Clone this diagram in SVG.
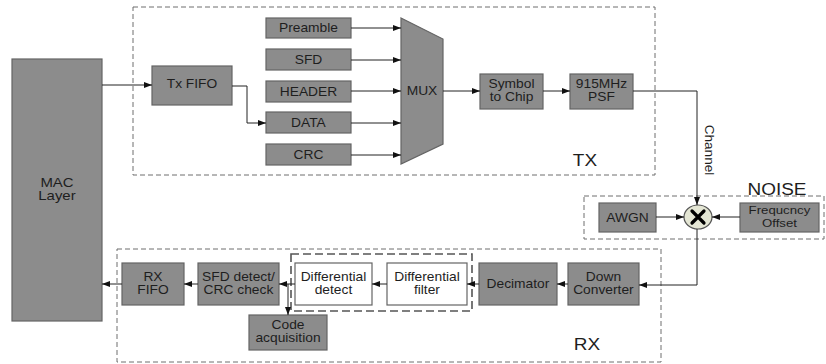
<svg xmlns="http://www.w3.org/2000/svg" width="826" height="364" viewBox="0 0 826 364">
<defs>
<style>
.box{fill:#8c8c8c;stroke:#646464;stroke-width:1.2}
.wbox{fill:#ffffff;stroke:#646464;stroke-width:1.2}
.grp{fill:none;stroke:#6e6e6e;stroke-width:1;stroke-dasharray:5,3}
.grp2{fill:none;stroke:#555;stroke-width:1.6;stroke-dasharray:8,4}
text{font-family:"Liberation Sans",Arial,sans-serif;font-size:12px;fill:#1e1e1e;text-anchor:middle;transform-box:fill-box;transform-origin:center;transform:scaleX(1.15)}
.big{font-size:16.5px}
.mac{font-size:13px}
.sm{font-size:11.5px}
.ch{font-size:13.5px;transform:none}
.con{fill:none;stroke:#222;stroke-width:1}
</style>
<marker id="arr" viewBox="0 0 8 6" refX="8" refY="3" markerWidth="8" markerHeight="6" markerUnits="userSpaceOnUse" orient="auto">
<path d="M0,0 L8,3 L0,6 z" fill="#111"/>
</marker>
</defs>
<rect width="826" height="364" fill="#ffffff"/>

<g id="groups">
<rect class="grp" x="133" y="7" width="522" height="168"/>
<rect class="grp" x="584" y="196" width="240" height="43"/>
<rect class="grp" x="117" y="249" width="544" height="113"/>
<rect class="grp2" x="291" y="254" width="181" height="57"/>
<text class="big" x="585" y="166.5">TX</text>
<text class="big" x="777" y="195">NOISE</text>
<text class="big" x="587" y="350">RX</text>
<g transform="translate(705,150) rotate(90)"><text class="ch" x="0" y="0">Channel</text></g>
</g>

<g id="mac"><rect class="box" x="12" y="59" width="90" height="262"/><text class="mac" x="57" y="187">MAC</text><text class="mac" x="57" y="200.5">Layer</text></g>
<g id="txfifo"><rect class="box" x="152" y="66" width="80" height="39"/><text x="192" y="88.5">Tx FIFO</text></g>
<g id="preamble"><rect class="box" x="266" y="18" width="85" height="20"/><text x="308.5" y="32.3">Preamble</text></g>
<g id="sfd"><rect class="box" x="266" y="49" width="85" height="21"/><text x="308.5" y="63.8">SFD</text></g>
<g id="header"><rect class="box" x="266" y="81" width="85" height="21"/><text x="308.5" y="95.8">HEADER</text></g>
<g id="data"><rect class="box" x="266" y="112" width="85" height="21"/><text x="308.5" y="126.8">DATA</text></g>
<g id="crc"><rect class="box" x="266" y="144" width="85" height="21"/><text x="308.5" y="158.8">CRC</text></g>
<g id="mux"><polygon class="box" points="401,18 443,39 443,144 401,164"/><text x="422" y="95.5">MUX</text></g>
<g id="symbol"><rect class="box" x="480" y="74" width="63" height="35"/><text x="511.5" y="88">Symbol</text><text x="511.5" y="101.5">to Chip</text></g>
<g id="psf"><rect class="box" x="570" y="74" width="63" height="35"/><text x="601.5" y="88">915MHz</text><text x="601.5" y="101.5">PSF</text></g>
<g id="awgn"><rect class="box" x="599" y="203" width="57" height="29"/><text x="627.5" y="222">AWGN</text></g>
<g id="freq"><rect class="box" x="740" y="203" width="79" height="29"/><text class="sm" x="779.5" y="214.5">Frequcncy</text><text class="sm" x="779.5" y="227.5">Offset</text></g>
<g id="mixer"><ellipse cx="698" cy="217" rx="14" ry="12" fill="#e4e6d4" stroke="#555" stroke-width="1.2"/><path d="M692,211 L704,223 M704,211 L692,223" stroke="#000" stroke-width="3.2" stroke-linecap="round"/></g>
<g id="downconv"><rect class="box" x="568" y="263" width="71" height="42"/><text x="603.5" y="281">Down</text><text x="603.5" y="294.5">Converter</text></g>
<g id="decimator"><rect class="box" x="479" y="263" width="78" height="42"/><text x="518" y="288.5">Decimator</text></g>
<g id="difffilter"><rect class="wbox" x="387" y="263" width="80" height="42"/><text x="427" y="281">Differential</text><text x="427" y="294.5">filter</text></g>
<g id="diffdetect"><rect class="wbox" x="295" y="263" width="77" height="42"/><text x="333.5" y="281">Differential</text><text x="333.5" y="294.5">detect</text></g>
<g id="sfddetect"><rect class="box" x="198" y="263" width="81" height="42"/><text x="238.5" y="281">SFD detect/</text><text x="238.5" y="294.5">CRC check</text></g>
<g id="rxfifo"><rect class="box" x="122" y="263" width="62" height="42"/><text x="153" y="281">RX</text><text x="153" y="294.5">FIFO</text></g>
<g id="codeacq"><rect class="box" x="249" y="315" width="78" height="35"/><text x="288" y="329">Code</text><text x="288" y="342.5">acquisition</text></g>

<g id="connectors">
<path class="con" d="M102,85 H152" marker-end="url(#arr)"/>
<path class="con" d="M232,86 H247 V123 H266" marker-end="url(#arr)"/>
<path class="con" d="M351,28 H401" marker-end="url(#arr)"/>
<path class="con" d="M351,60 H401" marker-end="url(#arr)"/>
<path class="con" d="M351,91 H401" marker-end="url(#arr)"/>
<path class="con" d="M351,123 H401" marker-end="url(#arr)"/>
<path class="con" d="M351,155 H401" marker-end="url(#arr)"/>
<path class="con" d="M443,91 H480" marker-end="url(#arr)"/>
<path class="con" d="M543,91 H570" marker-end="url(#arr)"/>
<path class="con" d="M633,91 H697 V205" marker-end="url(#arr)"/>
<path class="con" d="M656,217 H684" marker-end="url(#arr)"/>
<path class="con" d="M740,217 H712" marker-end="url(#arr)"/>
<path class="con" d="M697,229 V285 H639" marker-end="url(#arr)"/>
<path class="con" d="M568,284 H557" marker-end="url(#arr)"/>
<path class="con" d="M479,284 H467" marker-end="url(#arr)"/>
<path class="con" d="M387,284 H372" marker-end="url(#arr)"/>
<path class="con" d="M295,284 H279" marker-end="url(#arr)"/>
<path class="con" d="M288,284 V315" marker-end="url(#arr)"/>
<path class="con" d="M198,284 H184" marker-end="url(#arr)"/>
<path class="con" d="M122,284 H102" marker-end="url(#arr)"/>
</g>
</svg>
